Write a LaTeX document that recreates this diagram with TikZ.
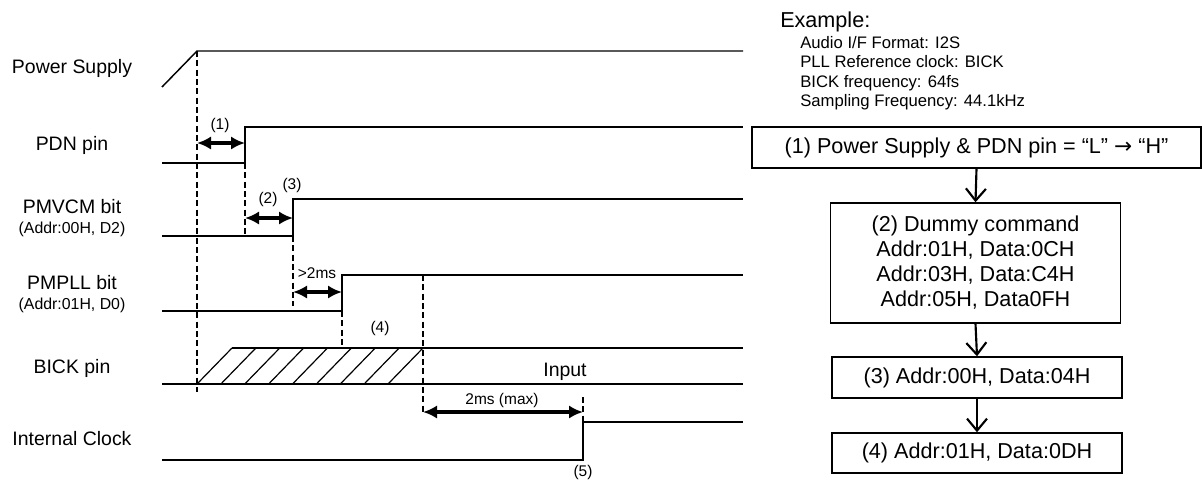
\documentclass[tikz,border=0pt]{standalone}
\usepackage{fontspec}
\setmainfont{Liberation Sans}
\newfontfamily\arrowfont{DejaVu Sans}
\usetikzlibrary{arrows.meta}

\begin{document}
\begin{tikzpicture}[x=0.75pt, y=-0.75pt,
  sig/.style={line width=1.1pt},
  guide/.style={line width=1.9pt, dash pattern=on 4.5pt off 2.5pt},
  dimarrow/.style={{Latex[length=10.5pt,width=10pt]}-{Latex[length=10.5pt,width=10pt]}, line width=2.5pt},
  signame/.style={font=\fontsize{14.6}{17}\selectfont, anchor=base},
  addr/.style={font=\fontsize{11.9}{14}\selectfont, anchor=base},
  evt/.style={font=\fontsize{11.6}{14}\selectfont},
  cond/.style={font=\fontsize{12.5}{14}\selectfont, anchor=base west, inner sep=0pt},
  stepbox/.style={draw, line width=1.1pt, font=\fontsize{16.2}{18.75}\selectfont, align=center,
                  minimum width=217.5pt, minimum height=30.75pt, inner sep=0pt},
  flow/.style={-{Straight Barb[length=9pt,width=15pt]}, line width=1.6pt}
]
  \useasboundingbox (0,0) rectangle (1202,480);

  % Signal names
  \node[signame] (ps) at (72,73) {Power Supply};
  \node[signame] (pdn) at (72,150) {PDN pin};
  \node[signame] (vcm) at (72,213) {PMVCM bit};
  \node[addr] (vcmaddr) at (72,233) {(Addr:00H, D2)};
  \node[signame] (pll) at (72,289) {PMPLL bit};
  \node[addr] (plladdr) at (72,309) {(Addr:01H, D0)};
  \node[signame] (bick) at (72,373) {BICK pin};
  \node[signame] (iclk) at (72,445) {Internal Clock};

  % Waveforms
  \draw[sig] (162,87) -- (197,51) -- (743,51);
  \draw[sig] (162,163) -- (245,163) -- (245,127) -- (743,127);
  \draw[sig] (162,236) -- (293,236) -- (293,199) -- (743,199);
  \draw[sig] (162,311) -- (342,311) -- (342,275) -- (743,275);
  \draw[sig] (232,348) -- (743,348);
  \draw[sig] (162,384) -- (743,384);
  \foreach \k in {0,...,8}
    \draw[line width=0.9pt] (232+23.875*\k,348) -- ++(-35,36);
  \draw[sig] (162,460) -- (583,460) -- (583,422) -- (743,422);

  % Timing marks
  \draw[guide] (197,51) -- (197,392);
  \draw[guide] (245,163) -- (245,237);
  \draw[guide] (293,236) -- (293,306);
  \draw[guide] (342,311) -- (342,348);
  \draw[guide] (423,275) -- (423,415);
  \draw[guide] (583,397) -- (583,422);

  % Intervals
  \coordinate (pdnA) at (197,143);  \coordinate (pdnB) at (245,143);
  \coordinate (vcmA) at (245,218);  \coordinate (vcmB) at (293,218);
  \coordinate (pllA) at (293,292);  \coordinate (pllB) at (342,292);
  \coordinate (clkA) at (423,412);  \coordinate (clkB) at (583,412);
  \draw[dimarrow] (pdnA) -- (pdnB);
  \draw[dimarrow] (vcmA) -- (vcmB);
  \draw[dimarrow] (pllA) -- (pllB);
  \draw[dimarrow] (clkA) -- (clkB);

  \node[evt] (e1) at (220,125) {(1)};
  \node[evt] (e2) at (268,199) {(2)};
  \node[evt] (e3) at (292,185) {(3)};
  \node[evt] (wait) at (317,273) {>2ms};
  \node[evt] (e4) at (380,328) {(4)};
  \node[signame] (inp) at (565,376) {Input};
  \node[evt] (lock) at (502,400) {2ms (max)};
  \node[evt] (e5) at (583,472) {(5)};

  % Example settings
  \node[cond, font=\fontsize{16.2}{19}\selectfont] (ex) at (780,27) {Example:};
  \node[cond] (c1) at (800,48) {Audio I/F Format: I2S};
  \node[cond] (c2) at (800,67) {PLL Reference clock: BICK};
  \node[cond] (c3) at (800,87) {BICK frequency: 64fs};
  \node[cond] (c4) at (800,106) {Sampling Frequency: 44.1kHz};

  % Sequence
  \node[stepbox, minimum width=336.75pt] (s1) at (976.5,147.5)
    {(1) Power Supply \& PDN pin = “L” {\arrowfont →} “H”};
  \node[stepbox, minimum height=90pt] (s2) at (975.5,263)
    {(2) Dummy command\\Addr:01H, Data:0CH\\Addr:03H, Data:C4H\\Addr:05H, Data0FH};
  \node[stepbox] (s3) at (977,377.5) {(3) Addr:00H, Data:04H};
  \node[stepbox, minimum height=30pt] (s4) at (977,453) {(4) Addr:01H, Data:0DH};
  \draw[flow] (s1.south) -- (s2.north);
  \draw[flow] (s2.south) -- (s3.north);
  \draw[flow] (s3.south) -- (s4.north);
\end{tikzpicture}
\end{document}
